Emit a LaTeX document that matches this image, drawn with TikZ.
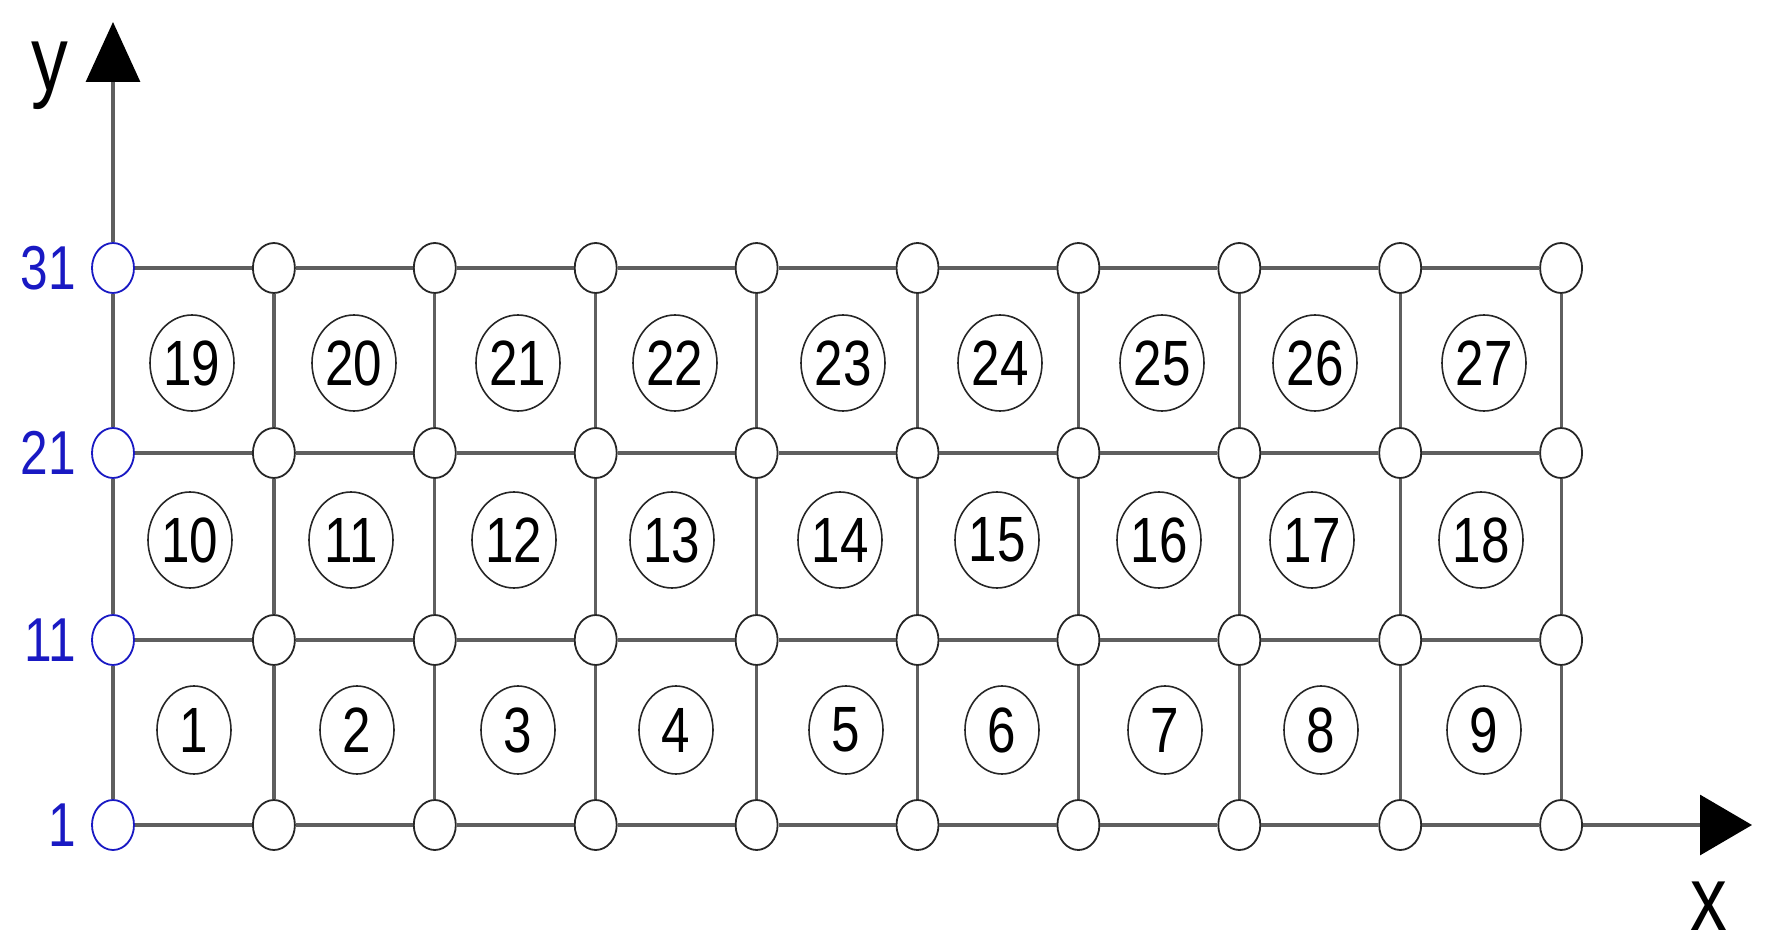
\documentclass[tikz,border=0pt]{standalone}
\usepackage{fontspec}
\setmainfont[FakeStretch=0.8]{Liberation Sans}
\usetikzlibrary{shapes.geometric,arrows.meta}
\definecolor{gridgray}{RGB}{95,95,95}
\definecolor{lblblue}{RGB}{25,25,195}
\begin{document}
\begin{tikzpicture}[x=0.5pt,y=-0.5pt,
  gnode/.style={ellipse,draw=black!85,line width=0.9pt,fill=white,minimum width=21pt,minimum height=25pt,inner sep=0pt},
  bnode/.style={gnode,draw=lblblue},
  elem/.style={ellipse,draw=black!85,line width=0.8pt,inner sep=0pt,minimum width=42pt,minimum height=48pt,font=\fontsize{32}{32}\selectfont},
  elems/.style={elem,minimum width=37pt,minimum height=44pt},
  gline/.style={draw=gridgray,line width=1.6pt},
  ylab/.style={anchor=east,text=lblblue,font=\fontsize{31}{31}\selectfont,inner sep=0pt},
  axlab/.style={font=\fontsize{46}{46}\selectfont,inner sep=0pt},
  axarrowy/.style={gline,-{Triangle[length=30pt,width=27pt,color=black]}},
  axarrowx/.style={gline,-{Triangle[length=26pt,width=30pt,color=black]}}
]
\useasboundingbox (0,0) rectangle (1773,952);
% grid nodes
\foreach \j/\yy in {0/825,1/640,2/453,3/268} {
  \node[bnode] (n-0-\j) at (113,\yy) {};
  \foreach \i in {1,...,9} {
    \node[gnode] (n-\i-\j) at ({113+160.9*\i},\yy) {};
  }
}
% horizontal edges
\foreach \i [evaluate=\i as \k using int(\i+1)] in {0,...,8} {
  \foreach \j in {0,...,3} {
    \draw[gline] (n-\i-\j) -- (n-\k-\j);
  }
}
% vertical edges
\foreach \j [evaluate=\j as \m using int(\j+1)] in {0,1,2} {
  \foreach \i in {0,...,9} {
    \draw[gline] (n-\i-\j) -- (n-\i-\m);
  }
}
% axes
\coordinate (ytip) at (113,22);
\coordinate (xtip) at (1752,825);
\draw[axarrowy] (n-0-3) -- (ytip);
\draw[axarrowx] (n-9-0) -- (xtip);
\node[axlab] (ylabel) at (50,76) {y};
\node[axlab] (xlabel) at (1709,906) {x};
% axis values
\node[ylab] (l1) at (76,825) {1};
\node[ylab] (l11) at (76,640) {11};
\node[ylab] (l21) at (76,453) {21};
\node[ylab] (l31) at (76,268) {31};
% elements
\foreach \n/\ex in {1/194,2/357,3/518,4/676,5/846,6/1002,7/1165,8/1321,9/1484} {
  \node[elems] (e\n) at (\ex,730) {\n};
}
\foreach \n/\ex in {10/190,11/351,12/514,13/672,14/840,15/997,16/1159,17/1312,18/1481} {
  \node[elem] (e\n) at (\ex,540) {\n};
}
\foreach \n/\ex in {19/192,20/354,21/518,22/675,23/843,24/1000,25/1162,26/1315,27/1484} {
  \node[elem] (e\n) at (\ex,363) {\n};
}
\end{tikzpicture}
\end{document}
